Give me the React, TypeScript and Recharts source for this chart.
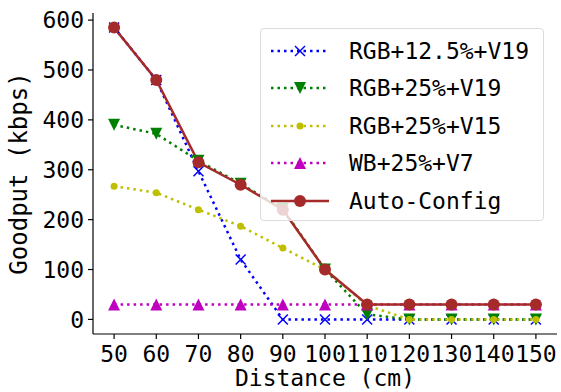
import { LineChart, Line, XAxis, YAxis, Legend } from "recharts";

const distances = [50, 60, 70, 80, 90, 100, 110, 120, 130, 140, 150];
const rgb125v19 = [585, 480, 297, 120, 0, 0, 0, 0, 0, 0, 0];
const rgb25v19 = [390, 372, 318, 272, 222, 100, 10, 0, 0, 0, 0];
const rgb25v15 = [267, 254, 220, 187, 143, 100, 28, 0, 0, 0, 0];
const wb25v7 = [30, 30, 30, 30, 30, 30, 30, 30, 30, 30, 30];
const autoConfig = [585, 480, 315, 270, 220, 100, 30, 30, 30, 30, 30];
const yTicks = [0, 100, 200, 300, 400, 500, 600];

const data = distances.map((d, i) => ({
  d,
  a: rgb125v19[i],
  b: rgb25v19[i],
  c: rgb25v15[i],
  e: wb25v7[i],
  f: autoConfig[i],
}));

const FONT = "'DejaVu Sans Mono', monospace";

type Shape = "x" | "down" | "dot" | "up" | "circle";

const marker = (shape: Shape, color: string, cx: number, cy: number) => {
  if (shape === "x")
    return (
      <g stroke={color} strokeWidth={1.5}>
        <line x1={cx - 5} y1={cy - 5} x2={cx + 5} y2={cy + 5} />
        <line x1={cx - 5} y1={cy + 5} x2={cx + 5} y2={cy - 5} />
      </g>
    );
  if (shape === "down")
    return <polygon points={`${cx - 6},${cy - 6} ${cx + 6},${cy - 6} ${cx},${cy + 6}`} fill={color} />;
  if (shape === "up")
    return <polygon points={`${cx - 6},${cy + 6} ${cx + 6},${cy + 6} ${cx},${cy - 6}`} fill={color} />;
  if (shape === "dot") return <circle cx={cx} cy={cy} r={3.5} fill={color} />;
  return <circle cx={cx} cy={cy} r={6} fill={color} />;
};

const dotFor = (shape: Shape, color: string) => (props: any) =>
  <g key={`${shape}-${props.index}`}>{marker(shape, color, props.cx, props.cy)}</g>;

const series = [
  { key: "a", name: "RGB+12.5%+V19", color: "#0000ff", shape: "x" as Shape, dotted: true },
  { key: "b", name: "RGB+25%+V19", color: "#008000", shape: "down" as Shape, dotted: true },
  { key: "c", name: "RGB+25%+V15", color: "#bfbf00", shape: "dot" as Shape, dotted: true },
  { key: "e", name: "WB+25%+V7", color: "#bf00bf", shape: "up" as Shape, dotted: true },
  { key: "f", name: "Auto-Config", color: "#a52a2a", shape: "circle" as Shape, dotted: false },
];

const LegendBox = () => (
  <div
    style={{
      width: 284,
      height: 193,
      background: "rgba(255,255,255,0.8)",
      border: "1px solid #dcdcdc",
      borderRadius: 4,
      boxSizing: "border-box",
      paddingTop: 3,
    }}
  >
    {series.map((s) => (
      <div key={s.key} style={{ display: "flex", alignItems: "center", height: 37.5 }}>
        <svg width={88} height={20} style={{ flex: "none" }}>
          <line
            x1={10}
            y1={10}
            x2={68}
            y2={10}
            stroke={s.color}
            strokeWidth={2.5}
            strokeDasharray={s.dotted ? "2.5 4" : undefined}
          />
          {marker(s.shape, s.color, 39, 10)}
        </svg>
        <span style={{ fontFamily: FONT, fontSize: 23, color: "#000", whiteSpace: "nowrap" }}>{s.name}</span>
      </div>
    ))}
  </div>
);

export default function App() {
  return (
    <div style={{ width: 561, height: 392, position: "relative" }}>
      <style>{`body{margin:0;}`}</style>
      <LineChart width={561} height={392} data={data} margin={{ top: 13, right: 4, left: 0, bottom: 0 }}>
        <XAxis
          dataKey="d"
          type="number"
          domain={[45, 155]}
          ticks={distances}
          interval={0}
          height={58}
          tickSize={5}
          tickMargin={7}
          stroke="#000"
          strokeWidth={1.2}
          tick={{ fill: "#000", fontSize: 23, fontFamily: FONT }}
          label={{
            value: "Distance (cm)",
            position: "insideBottom",
            offset: 6,
            fill: "#000",
            fontSize: 23,
            fontFamily: FONT,
          }}
        />
        <XAxis xAxisId="top" dataKey="d" type="number" domain={[45, 155]} orientation="top" height={0} tick={false} tickLine={false} stroke="#000" strokeWidth={1.2} />
        <YAxis
          domain={[-29.25, 614.25]}
          ticks={yTicks}
          interval={0}
          width={93}
          tickSize={5}
          tickMargin={4}
          stroke="#000"
          strokeWidth={1.2}
          tick={{ fill: "#000", fontSize: 23, fontFamily: FONT }}
          label={{
            value: "Goodput (kbps)",
            angle: -90,
            position: "insideLeft",
            offset: 18,
            style: { textAnchor: "middle" },
            fill: "#000",
            fontSize: 24,
            fontFamily: FONT,
          }}
        />
        <YAxis yAxisId="right" orientation="right" domain={[-29.25, 614.25]} width={0} tick={false} tickLine={false} stroke="#000" strokeWidth={1.2} />
        {series.map((s) => (
          <Line
            key={s.key}
            dataKey={s.key}
            name={s.name}
            stroke={s.color}
            strokeWidth={2.5}
            strokeDasharray={s.dotted ? "2.5 4" : undefined}
            dot={dotFor(s.shape, s.color)}
            activeDot={false}
            isAnimationActive={false}
          />
        ))}
        <Legend
          layout="horizontal"
          verticalAlign="middle"
          align="center"
          content={() => <LegendBox />}
          wrapperStyle={{ left: 260, top: 28, width: 286, height: 195 }}
        />
      </LineChart>
    </div>
  );
}
